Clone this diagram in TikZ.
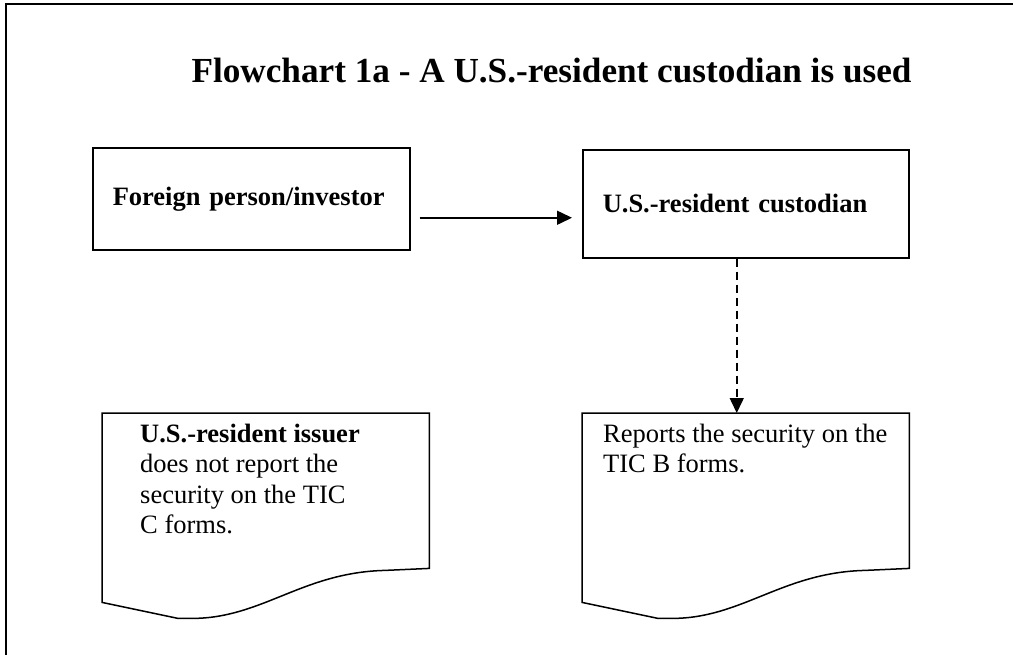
\documentclass[tikz,border=0pt]{standalone}
\usepackage{fontspec}
\setmainfont{Liberation Serif}
\usetikzlibrary{positioning,calc,arrows.meta}

\newcommand{\chartbody}{\fontsize{26.5}{30.4}\selectfont}
\newcommand{\charttitle}{\fontsize{35.2}{40}\selectfont\bfseries}

\tikzset{
	flowbox/.style={draw, line width=1.5pt, anchor=north west, align=left, inner xsep=20pt, inner ysep=0pt, font=\chartbody},
	docarea/.style={anchor=north west, minimum width=327pt, minimum height=189pt, inner sep=0pt},
	doctext/.style={anchor=north west, align=left, inner sep=0pt, font=\chartbody},
	docline/.style={line width=1.5pt},
	flow/.style={-{Triangle[length=15pt,width=14pt]}, line width=1.5pt},
}

\begin{document}
\begin{tikzpicture}[x=1pt, y=-1pt]
	\useasboundingbox (0,0) rectangle (1013,654);
	\clip (0,0) rectangle (1013,654);
	\draw[line width=2pt] (6,4) rectangle (1090,700);

	\node[font=\charttitle, anchor=base west] (title) at (188,82) {Flowchart 1a - A U.S.-resident custodian is used};

	\node[flowbox, text width=277pt, minimum height=102pt] (investor) at (92,147) {\textbf{Foreign person/investor}};
	\node[flowbox, text width=286pt, minimum height=108pt] (custodian) at (582,149) {\textbf{U.S.-resident custodian}};

	\node[docarea] (issuer) at (102,413) {};
	\node[docarea] (report) at (582,413) {};
	\foreach \d in {issuer,report}
		\draw[docline] (\d.north west) -- (\d.north east) -- ($(\d.south east)+(0,-34)$)
			-- ($(\d.south west)+(283,-32)$) .. controls ($(\d.south west)+(200,-30)$) and ($(\d.south west)+(160,16)$) .. ($(\d.south west)+(90,16)$)
			-- ($(\d.south west)+(76,16)$) -- (\d.south west) -- cycle;

	\node[doctext, below right=11pt and 38pt of issuer.north west] (issuertext) {\textbf{U.S.-resident issuer}\\does not report the\\security on the TIC\\C forms.};
	\node[doctext, below right=11pt and 21pt of report.north west] (reporttext) {Reports the security on the\\TIC B forms.};

	% connectors
	\draw[flow, shorten <=9pt, shorten >=10pt] ([yshift=-19pt]investor.east) -- ([yshift=-19pt]investor.east -| custodian.west);
	\draw[flow, dash pattern=on 8pt off 5pt] ([xshift=-9pt]custodian.south) -- ([xshift=-9pt]custodian.south |- report.north);
\end{tikzpicture}
\end{document}
